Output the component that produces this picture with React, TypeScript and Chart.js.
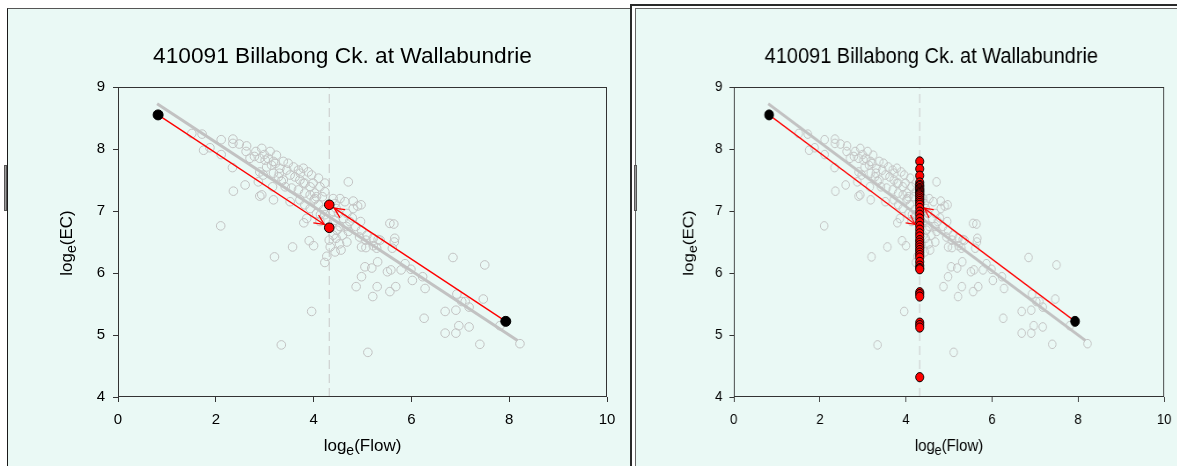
import React, { useEffect, useRef } from "react";
import { Chart, registerables } from "chart.js";

Chart.register(...registerables);

const FONT = "Arial, 'Liberation Sans', Helvetica, sans-serif";
const TITLE = "410091 Billabong Ck. at Wallabundrie";
const X_LABEL = ["log", "e", "(Flow)"];
const Y_LABEL = ["log", "e", "(EC)"];
const X_TICKS = [0, 2, 4, 6, 8, 10];
const Y_TICKS = [4, 5, 6, 7, 8, 9];

// observed samples: [loge(Flow), loge(EC)]
const OBSERVED: [number, number][] = [
  [1.51, 8.25], [1.72, 8.24], [1.75, 7.98], [1.88, 8.02], [2.11, 8.15], [2.11, 7.91],
  [2.35, 8.16], [2.35, 8.09], [2.48, 8.08], [2.63, 8.05], [2.62, 7.96], [2.7, 7.85],
  [2.82, 7.96], [2.79, 7.88], [2.34, 7.7], [2.36, 7.32], [2.87, 7.47], [2.1, 6.76],
  [2.6, 7.42], [2.9, 7.85], [2.9, 7.63], [2.94, 7.26], [2.9, 7.24],
  [2.94, 8.01], [3.11, 7.96], [3.24, 7.9], [3.01, 7.82], [3.18, 7.8], [3.38, 7.8],
  [3.48, 7.77], [3.59, 7.71], [3.69, 7.66], [3.79, 7.69], [3.89, 7.63], [3.96, 7.58],
  [4.1, 7.53], [3.31, 7.69], [3.45, 7.66], [3.52, 7.58], [3.62, 7.55], [3.72, 7.5],
  [3.82, 7.45], [3.99, 7.45], [4.13, 7.39], [4.23, 7.45], [3.18, 7.61], [3.28, 7.55],
  [3.38, 7.5], [3.14, 7.74], [3.04, 7.71], [2.97, 7.58], [3.42, 7.39], [3.55, 7.37],
  [3.69, 7.34], [3.82, 7.29], [3.93, 7.26], [4.06, 7.23], [4.23, 7.31], [3.18, 7.18],
  [3.52, 7.15], [3.72, 7.18], [3.82, 7.1], [3.93, 7.04], [4.06, 6.96], [4.2, 7.02],
  [3.86, 6.88], [2.99, 7.91], [3.07, 7.85], [3.22, 7.77], [3.3, 7.61], [3.34, 7.48],
  [3.73, 7.61], [4.02, 7.29], [4.01, 7.18], [4.18, 7.23], [3.16, 7.39], [3.79, 7.45],
  [3.93, 7.39], [4.03, 7.2], [4.1, 7.1], [4.23, 6.94], [4.13, 6.83], [4.14, 6.94],
  [4.24, 6.86],
  [3.8, 6.81], [3.91, 6.52], [4.0, 6.44], [3.57, 6.42], [3.2, 6.26], [3.96, 5.38],
  [3.34, 4.84], [4.23, 6.17], [4.27, 6.27], [4.34, 6.42], [4.32, 6.53],
  [4.4, 7.2], [4.44, 7.12], [4.54, 7.2], [4.64, 7.15], [4.81, 7.16], [4.97, 7.1],
  [4.71, 7.47], [4.46, 7.04], [4.4, 6.99], [4.51, 6.96], [4.68, 6.96], [4.81, 7.04],
  [4.44, 6.85], [4.61, 6.88], [4.74, 6.83], [4.54, 6.75], [4.96, 6.83], [4.71, 6.67],
  [4.59, 6.61], [4.46, 6.56], [4.53, 6.47], [4.56, 6.37], [4.68, 6.5], [4.4, 6.61],
  [4.44, 6.34], [4.98, 6.69], [4.94, 6.58], [5.07, 6.53], [4.98, 6.42], [5.07, 6.41],
  [5.22, 6.44], [5.09, 6.61], [5.22, 6.56], [5.36, 6.53], [4.79, 6.89], [4.67, 6.75],
  [4.48, 6.69], [4.86, 6.75], [4.9, 7.08],
  [5.56, 6.8], [5.64, 6.79], [5.66, 6.56], [5.65, 6.5], [5.32, 6.54], [5.29, 6.4],
  [5.61, 6.4], [5.05, 6.1], [5.19, 6.08], [5.31, 6.18], [4.98, 5.94], [4.87, 5.78],
  [5.3, 5.78], [5.21, 5.62], [5.56, 5.7], [5.68, 5.78], [5.51, 6.02], [5.58, 6.05],
  [5.79, 6.05], [5.87, 6.15], [5.99, 6.06], [6.02, 5.88], [6.23, 5.94], [6.28, 5.75],
  [5.11, 4.72],
  [6.85, 6.25], [7.5, 6.13], [6.26, 5.27], [6.69, 5.38], [6.91, 5.4], [6.93, 5.66],
  [7.03, 5.54], [7.1, 5.54], [7.18, 5.45], [7.47, 5.58], [6.69, 5.03], [6.91, 5.03],
  [6.97, 5.15], [7.18, 5.13], [7.4, 4.85], [8.22, 4.86], [7.81, 5.15],
];

// fitted rating line end points
const TREND_FLOW = [0.8, 8.17];
const TREND_EC = [8.73, 4.91];

// extreme observations (black) and their projections onto the cut flow (red)
const END_FLOW = [0.82, 7.93];
const END_EC = [8.55, 5.22];
const CUT_FLOW = 4.32;
const PROJ_EC = [6.73, 7.1];

// projected EC values for every sample, all at the cut flow
const SPREAD_EC = [
  7.8, 7.68, 7.57, 7.46, 7.42, 7.4, 7.37, 7.35, 7.33, 7.31, 7.29, 7.27, 7.25, 7.22,
  7.19, 7.16, 7.13, 7.1, 7.05, 6.99, 6.94, 6.88, 6.82, 6.76, 6.7, 6.64, 6.59, 6.53,
  6.49, 6.45, 6.41, 6.37, 6.33, 6.29, 6.25, 6.18, 6.12, 6.08, 6.06, 5.69, 5.66, 5.62,
  5.2, 5.16, 5.12, 4.32,
];

const MINT = "#EAF9F5";
const RED = "#FF0000";
const GREY = "#C2C2C2";
const AXIS = "#333333";

const CANVAS_W = 622;
const CANVAS_H = 457;
const AREA = { left: 110, top: 78, right: 599, bottom: 388 };

function drawLogLabel(
  ctx: CanvasRenderingContext2D,
  parts: string[],
  size: number,
  cx: number,
  cy: number,
  rotate: boolean
) {
  ctx.save();
  ctx.translate(cx, cy);
  if (rotate) ctx.rotate(-Math.PI / 2);
  const main = `${size}px ${FONT}`;
  const sub = `${Math.round(size * 0.85)}px ${FONT}`;
  ctx.font = main;
  const w0 = ctx.measureText(parts[0]).width;
  const w2 = ctx.measureText(parts[2]).width;
  ctx.font = sub;
  const w1 = ctx.measureText(parts[1]).width;
  let x = -(w0 + w1 + w2) / 2;
  ctx.textBaseline = "middle";
  ctx.textAlign = "left";
  ctx.fillStyle = "#000";
  ctx.font = main;
  ctx.fillText(parts[0], x, 0);
  x += w0;
  ctx.font = sub;
  ctx.fillText(parts[1], x, size * 0.32);
  x += w1;
  ctx.font = main;
  ctx.fillText(parts[2], x, 0);
  ctx.restore();
}

const decorPlugin = {
  id: "decor",
  afterDatasetsDraw(chart: any) {
    const { ctx, scales } = chart;
    const xs = scales.x;
    const ys = scales.y;
    ctx.save();
    ctx.strokeStyle = RED;
    ctx.lineWidth = 1.3;
    for (let i = 0; i < END_FLOW.length; i++) {
      const x0 = xs.getPixelForValue(END_FLOW[i]);
      const y0 = ys.getPixelForValue(END_EC[i]);
      const x1 = xs.getPixelForValue(CUT_FLOW);
      const y1 = ys.getPixelForValue(PROJ_EC[i]);
      const ang = Math.atan2(y1 - y0, x1 - x0);
      const tx = x1 - Math.cos(ang) * 6;
      const ty = y1 - Math.sin(ang) * 6;
      ctx.beginPath();
      for (const s of [-1, 1]) {
        ctx.moveTo(tx - Math.cos(ang + s * 0.45) * 11, ty - Math.sin(ang + s * 0.45) * 11);
        ctx.lineTo(tx, ty);
      }
      ctx.stroke();
    }
    ctx.restore();
  },
  afterDraw(chart: any) {
    const { ctx, chartArea: a } = chart;
    ctx.save();
    ctx.strokeStyle = AXIS;
    ctx.lineWidth = 1;
    ctx.strokeRect(
      Math.round(a.left) + 0.5,
      Math.round(a.top) + 0.5,
      Math.round(a.right - a.left) - 1,
      Math.round(a.bottom - a.top) - 1
    );
    ctx.fillStyle = "#000";
    ctx.font = `22.7px ${FONT}`;
    ctx.textAlign = "center";
    ctx.textBaseline = "middle";
    ctx.fillText(TITLE, a.left + 224.5, 48);
    ctx.restore();
    drawLogLabel(ctx, X_LABEL, 17, (a.left + a.right) / 2, a.bottom + 49, false);
    drawLogLabel(ctx, Y_LABEL, 17, a.left - 51, (a.top + a.bottom) / 2 + 1, true);
  },
};

function pts(xs: number[], ys: number[]) {
  return xs.map((x, i) => ({ x, y: ys[i] }));
}

function ChartPanel({ spread }: { spread: boolean }) {
  const ref = useRef<HTMLCanvasElement | null>(null);

  useEffect(() => {
    if (!ref.current) return;
    const datasets: any[] = [
      {
        data: [{ x: CUT_FLOW, y: Y_TICKS[0] }, { x: CUT_FLOW, y: Y_TICKS[Y_TICKS.length - 1] }],
        showLine: true,
        borderColor: "#C8C8C8",
        borderWidth: 1,
        borderDash: [9, 5],
        pointRadius: 0,
        order: 7,
      },
      {
        data: pts(TREND_FLOW, TREND_EC),
        showLine: true,
        borderColor: GREY,
        borderWidth: 3,
        pointRadius: 0,
        order: 6,
      },
      {
        data: OBSERVED.map(([x, y]) => ({ x, y })),
        pointRadius: 4.3,
        borderWidth: 1,
        borderColor: GREY,
        backgroundColor: "rgba(0,0,0,0)",
        order: 5,
      },
      ...END_FLOW.map((fx, i) => ({
        data: [{ x: fx, y: END_EC[i] }, { x: CUT_FLOW, y: PROJ_EC[i] }],
        showLine: true,
        borderColor: RED,
        borderWidth: 1.4,
        pointRadius: 0,
        order: 4,
      })),
      {
        data: pts(END_FLOW, END_EC),
        pointRadius: 5,
        borderWidth: 1,
        borderColor: "#000",
        backgroundColor: "#000",
        order: 3,
      },
    ];
    if (spread) {
      datasets.push({
        data: SPREAD_EC.map((y) => ({ x: CUT_FLOW, y })),
        pointRadius: 4.6,
        borderWidth: 1,
        borderColor: "#000",
        backgroundColor: RED,
        order: 1,
      });
    } else {
      datasets.push({
        data: PROJ_EC.map((y) => ({ x: CUT_FLOW, y })),
        pointRadius: 4.8,
        borderWidth: 1,
        borderColor: "#000",
        backgroundColor: RED,
        order: 2,
      });
    }

    const tickFont = { family: FONT, size: 15 };
    const chart = new Chart(ref.current, {
      type: "scatter",
      data: { datasets },
      options: {
        animation: false,
        responsive: false,
        maintainAspectRatio: false,
        devicePixelRatio: 1,
        events: [],
        layout: {
          padding: { left: 0, top: AREA.top, right: CANVAS_W - AREA.right, bottom: 0 },
        },
        plugins: {
          legend: { display: false },
          tooltip: { enabled: false },
          title: { display: false },
        },
        scales: {
          x: {
            type: "linear",
            min: X_TICKS[0],
            max: X_TICKS[X_TICKS.length - 1],
            afterBuildTicks: (s: any) => {
              s.ticks = X_TICKS.map((value) => ({ value }));
            },
            afterFit: (s: any) => {
              s.height = CANVAS_H - AREA.bottom;
            },
            ticks: { font: tickFont, color: "#000", padding: 9, maxRotation: 0 },
            grid: { drawOnChartArea: false, drawTicks: true, tickLength: 5, color: AXIS },
            border: { display: false },
          },
          y: {
            type: "linear",
            min: Y_TICKS[0],
            max: Y_TICKS[Y_TICKS.length - 1],
            afterBuildTicks: (s: any) => {
              s.ticks = Y_TICKS.map((value) => ({ value }));
            },
            afterFit: (s: any) => {
              s.width = AREA.left;
            },
            ticks: { font: tickFont, color: "#000", padding: 8 },
            grid: { drawOnChartArea: false, drawTicks: true, tickLength: 5, color: AXIS },
            border: { display: false },
          },
        },
      },
      plugins: [decorPlugin],
    } as any);
    return () => chart.destroy();
  }, [spread]);

  return (
    <canvas
      ref={ref}
      width={CANVAS_W}
      height={CANVAS_H}
      style={{ display: "block", width: CANVAS_W, height: CANVAS_H }}
    />
  );
}

function Handle({ left }: { left: number }) {
  return (
    <div
      style={{
        position: "absolute",
        left,
        top: 165,
        width: 1,
        height: 44,
        background: "#9A9A9A",
        border: "1px solid #555",
      }}
    />
  );
}

export default function App() {
  return (
    <div
      style={{
        position: "fixed",
        left: 0,
        top: 0,
        width: 1177,
        height: 466,
        overflow: "hidden",
        background: "#fff",
      }}
    >
      {/* left sheet */}
      <div
        style={{
          position: "absolute",
          left: 7,
          top: 8,
          width: 640,
          height: 470,
          background: MINT,
          borderLeft: "1px solid #1a1a1a",
          borderTop: "1px solid #555",
        }}
      >
        <div style={{ position: "absolute", left: 0, top: 0 }}>
          <ChartPanel spread={false} />
        </div>
      </div>
      <Handle left={4} />
      {/* right sheet with its double selection frame */}
      <div
        style={{
          position: "absolute",
          left: 630,
          top: 4,
          width: 600,
          height: 480,
          background: "#fff",
          borderLeft: "2px solid #2a2a2a",
          borderTop: "2px solid #2a2a2a",
        }}
      />
      <div
        style={{
          position: "absolute",
          left: 635,
          top: 8,
          width: 600,
          height: 470,
          background: MINT,
          borderLeft: "1px solid #666",
          borderTop: "1px solid #666",
          overflow: "hidden",
        }}
      >
        <div
          style={{
            position: "absolute",
            left: 1,
            top: 0,
            transform: "scaleX(0.88)",
            transformOrigin: "0 0",
          }}
        >
          <ChartPanel spread={true} />
        </div>
      </div>
      <Handle left={634} />
    </div>
  );
}
